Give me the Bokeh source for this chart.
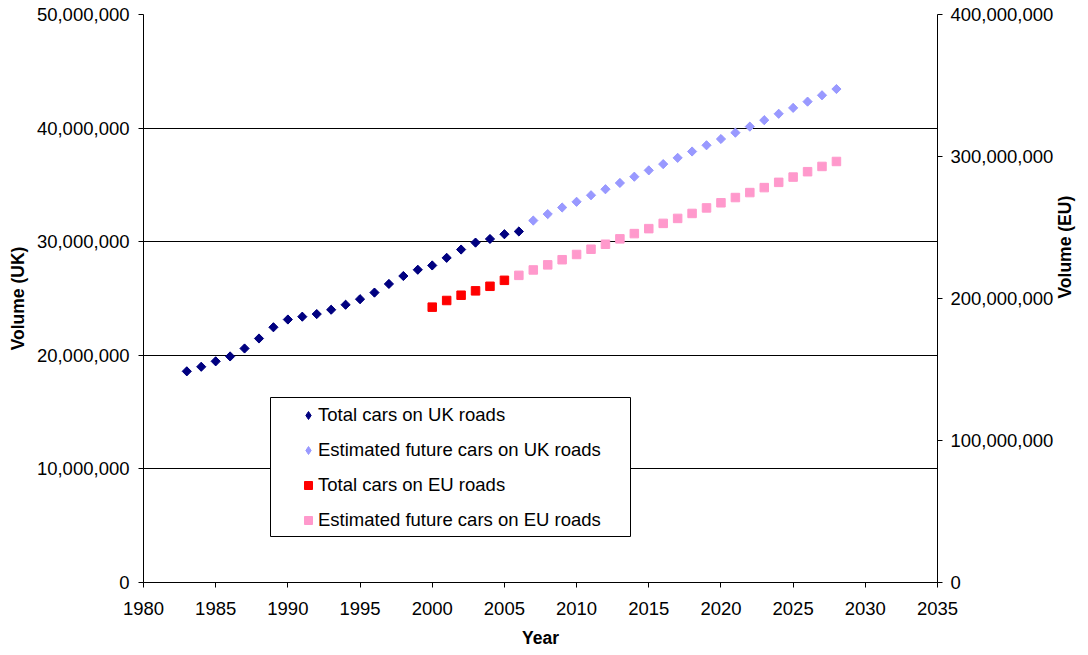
import numpy as np
from bokeh.plotting import figure
from bokeh.models import (Range1d, LinearAxis, SingleIntervalTicker, FixedTicker,
                          NumeralTickFormatter, Legend, LegendItem, BoxAnnotation, Title)
from bokeh.embed import file_html
from bokeh.resources import INLINE

FONT = "Liberation Sans"
MILLION = 1_000_000

# Cars on UK roads (millions)
uk_years = list(range(1983, 2007))
uk_total = [18.59, 18.99, 19.47, 19.90, 20.60, 21.48, 22.47, 23.15, 23.40, 23.63,
            24.01, 24.45, 24.94, 25.52, 26.28, 26.98, 27.53, 27.91, 28.58, 29.31,
            29.92, 30.24, 30.66, 30.90]

uk_est_years = list(range(2007, 2029))
uk_est = [31.86, 32.43, 33.01, 33.51, 34.09, 34.62, 35.17, 35.72, 36.28, 36.83,
          37.38, 37.94, 38.49, 39.04, 39.60, 40.13, 40.70, 41.26, 41.78, 42.33,
          42.89, 43.44]

# Cars on EU roads (millions)
eu_years = list(range(2000, 2006))
eu_total = [193.9, 198.6, 202.3, 205.4, 208.6, 212.8]

eu_est_years = list(range(2006, 2029))
eu_est = [216.3, 220.1, 223.7, 227.3, 231.0, 234.7, 238.2, 242.0, 245.7, 249.2,
          252.9, 256.4, 259.9, 263.8, 267.4, 271.1, 274.6, 278.1, 281.8, 285.5,
          289.3, 293.0, 296.5]

series_labels = ["Total cars on UK roads", "Estimated future cars on UK roads",
                 "Total cars on EU roads", "Estimated future cars on EU roads"]

p = figure(width=1088, height=655, output_backend="svg", toolbar_location=None,
           x_range=Range1d(1980, 2035), y_range=Range1d(0, 50 * MILLION),
           min_border_left=143, min_border_right=148,
           min_border_top=14, min_border_bottom=69)
p.extra_y_ranges = {"eu": Range1d(0, 400 * MILLION)}
p.outline_line_color = None
p.background_fill_color = "white"
p.border_fill_color = "white"

p.xgrid.visible = False
p.ygrid.ticker = FixedTicker(ticks=[10 * MILLION, 20 * MILLION, 30 * MILLION, 40 * MILLION])
p.ygrid.grid_line_color = "black"
p.ygrid.grid_line_width = 1


def style_axis(ax):
    ax.axis_line_color = "black"
    ax.axis_line_width = 1
    ax.major_tick_line_color = "black"
    ax.major_tick_out = 5
    ax.major_tick_in = 0
    ax.minor_tick_line_color = None
    ax.major_label_text_font = FONT
    ax.major_label_text_font_size = "18.5px"
    ax.major_label_text_color = "black"
    ax.axis_label_text_font = FONT
    ax.axis_label_text_font_size = "17.5px"
    ax.axis_label_text_font_style = "bold"
    ax.axis_label_text_color = "black"


xa = p.xaxis[0]
xa.ticker = SingleIntervalTicker(interval=5)
style_axis(xa)
xa.major_label_standoff = 14

ya = p.yaxis[0]
ya.ticker = SingleIntervalTicker(interval=10 * MILLION)
ya.formatter = NumeralTickFormatter(format="0,0")
ya.axis_label = "Volume (UK)"
style_axis(ya)
ya.major_label_standoff = 9
ya.axis_label_standoff = 6

yr = LinearAxis(y_range_name="eu", axis_label="Volume (EU)",
                ticker=SingleIntervalTicker(interval=100 * MILLION),
                formatter=NumeralTickFormatter(format="0,0"))
style_axis(yr)
yr.major_label_standoff = 8
yr.axis_label_standoff = 9
yr.axis_label_orientation = np.pi / 2
yr.axis_label_text_baseline = "top"
p.add_layout(yr, "right")

# Title for the horizontal axis, below the tick labels
p.add_layout(Title(text="Year", align="center", text_font=FONT, text_font_size="17.5px",
                   text_font_style="bold", text_color="black", standoff=16, offset=0),
             "below")

# Legend frame (opaque, hides the grid line behind it)
legend_box = BoxAnnotation(left=127, right=487, bottom=46, top=185,
                           left_units="screen", right_units="screen",
                           bottom_units="screen", top_units="screen",
                           fill_color="white", fill_alpha=1,
                           line_color="black", line_width=1, line_alpha=1)
p.add_layout(legend_box)

diamond = dict(marker="square", angle=np.pi / 4, size=6.5)
square = dict(marker="square", size=8.5)

# narrow diamonds underneath the UK points, used as the legend swatches
r_uk_key = p.scatter(uk_years, [v * MILLION for v in uk_total], marker="diamond",
                     size=8, fill_color="#000080", line_color="#000080")
r_uk_est_key = p.scatter(uk_est_years, [v * MILLION for v in uk_est], marker="diamond",
                         size=8, fill_color="#9999FF", line_color="#9999FF")

r_uk = p.scatter(uk_years, [v * MILLION for v in uk_total],
                 fill_color="#000080", line_color="#000080", **diamond)
r_uk_est = p.scatter(uk_est_years, [v * MILLION for v in uk_est],
                     fill_color="#9999FF", line_color="#9999FF", **diamond)
r_eu = p.scatter(eu_years, [v * MILLION for v in eu_total], y_range_name="eu",
                 fill_color="#FF0000", line_color="#FF0000", **square)
r_eu_est = p.scatter(eu_est_years, [v * MILLION for v in eu_est], y_range_name="eu",
                     fill_color="#FF99CC", line_color="#FF99CC", **square)

legend = Legend(
    items=[LegendItem(label=lbl, renderers=[r]) for lbl, r in
           zip(series_labels, [r_uk_key, r_uk_est_key, r_eu, r_eu_est])],
    location=(155, 51),
    padding=0, spacing=13, margin=0,
    glyph_width=20, glyph_height=22, label_height=22,
    label_standoff=0,
    label_text_font=FONT, label_text_font_size="18.5px", label_text_color="black",
    border_line_color=None, background_fill_alpha=0,
)
p.add_layout(legend)

open("out.html", "w").write(file_html(p, INLINE))
